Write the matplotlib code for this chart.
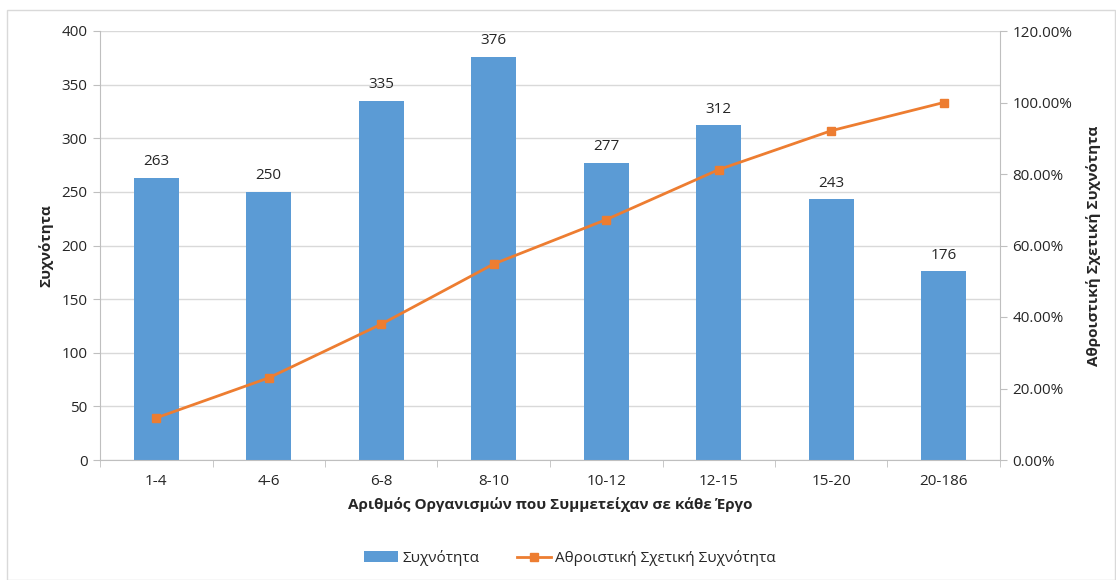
import matplotlib
matplotlib.use("Agg")
import matplotlib.pyplot as plt
from matplotlib.patches import Rectangle
from matplotlib.ticker import FuncFormatter, MultipleLocator
import numpy as np

plt.rcParams['font.family'] = ['Open Sans', 'DejaVu Sans']

categories = ['1-4', '4-6', '6-8', '8-10', '10-12', '12-15', '15-20', '20-186']
frequency = [263, 250, 335, 376, 277, 312, 243, 176]
cumulative_pct = [11.78, 22.98, 37.99, 54.84, 67.25, 81.23, 92.11, 100.0]

bar_color = '#5B9BD5'
line_color = '#ED7D31'
text_color = '#262626'
fs = 11

fig = plt.figure(figsize=(11.16, 5.8), dpi=100)
fig.patches.append(Rectangle((7/1116, 0), 1 - 7/1116 - 0.001, 1 - 10/580,
                             transform=fig.transFigure, fill=False,
                             edgecolor='#D9D9D9', linewidth=1.0))
ax = fig.add_axes([100/1116, 1 - 460/580, 900/1116, 429/580])
x = np.arange(len(categories))
bars = ax.bar(x, frequency, width=0.4, color=bar_color, zorder=2, label='Συχνότητα')
for xi, v in zip(x, frequency):
    ax.text(xi, v + 8, str(v), ha='center', va='bottom', fontsize=fs, color=text_color)

ax.set_xlim(-0.5, len(categories) - 0.5)
ax.set_ylim(0, 400)
ax.yaxis.set_major_locator(MultipleLocator(50))
ax.grid(axis='y', color='#D9D9D9', linewidth=1.0, zorder=0)
ax.set_axisbelow(True)
ax.set_xticks(x)
ax.set_xticklabels(categories)
ax.set_xticks(np.arange(-0.5, len(categories), 1), minor=True)
ax.tick_params(axis='x', which='major', length=0, pad=10, labelsize=fs, colors=text_color)
ax.tick_params(axis='x', which='minor', length=5, color='#BFBFBF')
ax.tick_params(axis='y', length=5, color='#BFBFBF', labelsize=fs, labelcolor=text_color, pad=4)
for s in ['top', 'right']:
    ax.spines[s].set_visible(False)
ax.spines['left'].set_color('#BFBFBF')
ax.spines['bottom'].set_color('#BFBFBF')
ax.set_ylabel('Συχνότητα', fontsize=fs, fontweight='bold', color=text_color, labelpad=6)
ax.set_xlabel('Αριθμός Οργανισμών που Συμμετείχαν σε κάθε Έργο', fontsize=fs,
              fontweight='bold', color=text_color, labelpad=6)

ax2 = ax.twinx()
line, = ax2.plot(x, cumulative_pct, color=line_color, linewidth=2, marker='s',
                 markersize=6, zorder=3, label='Αθροιστική Σχετική Συχνότητα')
ax2.set_ylim(0, 120)
ax2.yaxis.set_major_locator(MultipleLocator(20))
ax2.yaxis.set_major_formatter(FuncFormatter(lambda v, p: f'{v:.2f}%'))
ax2.tick_params(axis='y', length=5, color='#BFBFBF', labelsize=fs, labelcolor=text_color, pad=4)
for s in ['top', 'left', 'bottom']:
    ax2.spines[s].set_visible(False)
ax2.spines['right'].set_color('#BFBFBF')
ax2.set_ylabel('Αθροιστική Σχετική Συχνότητα', fontsize=fs, fontweight='bold',
               color=text_color, labelpad=10)

fig.legend([bars, line], ['Συχνότητα', 'Αθροιστική Σχετική Συχνότητα'],
           loc='center', bbox_to_anchor=(570/1116, 1 - 558/580), ncol=2,
           frameon=False, fontsize=fs, handlelength=2.2, handletextpad=0.3,
           columnspacing=2.5, labelcolor=text_color)

fig.savefig('out.png', dpi=100)
